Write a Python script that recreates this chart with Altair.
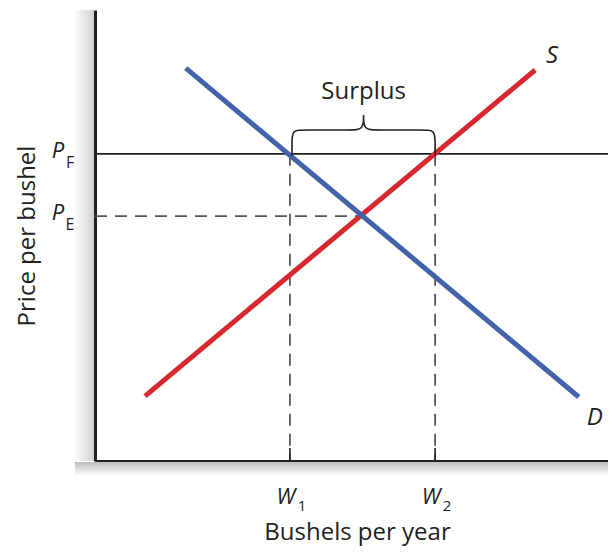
import altair as alt
import pandas as pd

# ---- values (abstract units, 0..10 on each axis) ----
W_VALUES = [3.80, 6.63]          # W1, W2 (quantities at the support price)
W_SUBS = ["1", "2"]
P_VALUES = [6.81, 5.43]          # P_F (floor), P_E (equilibrium)
P_SUBS = ["F", "E"]
Q_E = 5.19                        # equilibrium quantity
SUPPLY_Q = [0.975, 8.58]
SUPPLY_P = [1.44, 8.67]
DEMAND_Q = [1.77, 9.43]
DEMAND_P = [8.71, 1.42]
X_DOMAIN = [0, 10]
Y_DOMAIN = [0, 10]
BRACE_BAR = 7.34                  # height of brace bar
BRACE_TIP = 7.67                  # height of brace tip
SURPLUS_LABEL_Y = 8.03

FONT = "Open Sans"
INK = "#231f20"
BLUE = "#4262aa"
RED = "#d7282f"

xs = alt.Scale(domain=X_DOMAIN, nice=False, zero=False)
ys = alt.Scale(domain=Y_DOMAIN, nice=False, zero=False)
x_axis = alt.Axis(title="Bushels per year", ticks=False, labels=False, grid=False,
                  domainColor=INK, domainWidth=3, titleFont=FONT, titleFontSize=24,
                  titleFontWeight="normal", titleColor=INK, titlePadding=59, titleX=262)
y_axis = alt.Axis(title="Price per bushel", ticks=False, labels=False, grid=False,
                  domainColor=INK, domainWidth=3, titleFont=FONT, titleFontSize=24,
                  titleFontWeight="normal", titleColor=INK, titlePadding=56)


def X(f):
    return alt.X(f"{f}:Q", scale=xs, axis=x_axis)


def Y(f):
    return alt.Y(f"{f}:Q", scale=ys, axis=y_axis)


one = pd.DataFrame({"k": [0]})

# soft shadows next to the axes (decoration)
left_shadow = alt.Chart(one).mark_rect(
    color=alt.LinearGradient(gradient="linear", x1=0, x2=1, y1=0, y2=0,
                             stops=[alt.GradientStop(color="#ffffff", offset=0),
                                    alt.GradientStop(color="#d2d2d2", offset=1)])
).encode(x=alt.value(-22), x2=alt.value(-1), y=alt.value(0), y2=alt.value(451))
bottom_shadow = alt.Chart(one).mark_rect(
    color=alt.LinearGradient(gradient="linear", x1=0, x2=0, y1=0, y2=1,
                             stops=[alt.GradientStop(color="#bdbdbd", offset=0),
                                    alt.GradientStop(color="#ffffff", offset=1)])
).encode(x=alt.value(-20), x2=alt.value(513), y=alt.value(452), y2=alt.value(466))

# supply & demand
curves = pd.DataFrame({
    "q": SUPPLY_Q + DEMAND_Q,
    "p": SUPPLY_P + DEMAND_P,
    "curve": ["S", "S", "D", "D"],
    "i": [0, 1, 0, 1],
})
supply = alt.Chart(curves[curves.curve == "S"]).mark_line(
    color=RED, strokeWidth=5, strokeCap="butt").encode(x=X("q"), y=Y("p"), order="i:Q")
demand = alt.Chart(curves[curves.curve == "D"]).mark_line(
    color=BLUE, strokeWidth=5, strokeCap="butt").encode(x=X("q"), y=Y("p"), order="i:Q")

# price floor line
pf_df = pd.DataFrame({"x0": [X_DOMAIN[0]], "x1": [X_DOMAIN[1]], "p": [P_VALUES[0]]})
pf_line = alt.Chart(pf_df).mark_rule(color=INK, strokeWidth=1.6).encode(
    x=X("x0"), x2="x1:Q", y=Y("p"))

# dashed equilibrium price line
pe_df = pd.DataFrame({"x0": [X_DOMAIN[0]], "x1": [Q_E], "p": [P_VALUES[1]]})
pe_line = alt.Chart(pe_df).mark_rule(color="#555555", strokeWidth=1.6, strokeDash=[12, 8]).encode(
    x=X("x0"), x2="x1:Q", y=Y("p"))

# dashed verticals at W1, W2
w_df = pd.DataFrame({"w": W_VALUES, "y0": [Y_DOMAIN[0]] * 2, "y1": [P_VALUES[0]] * 2,
                     "sub": W_SUBS, "lab": ["W", "W"]})
w_lines = alt.Chart(w_df).mark_rule(color="#444444", strokeWidth=1.6, strokeDash=[12, 8]).encode(
    x=X("w"), y=Y("y1"), y2="y0:Q")
w_ticks = alt.Chart(w_df).mark_rule(color=INK, strokeWidth=1.6).encode(
    x=X("w"), y=alt.value(438), y2=alt.value(451))
w_main = alt.Chart(w_df).mark_text(font=FONT, fontSize=22, fontStyle="italic", color=INK,
                                   align="center", baseline="alphabetic", dx=-4).encode(
    x=X("w"), y=alt.value(494), text="lab:N")
w_sub = alt.Chart(w_df).mark_text(font=FONT, fontSize=15, color=INK,
                                  align="center", baseline="alphabetic", dx=12).encode(
    x=X("w"), y=alt.value(501), text="sub:N")

# P labels on the price axis
p_df = pd.DataFrame({"p": P_VALUES, "sub": P_SUBS, "lab": ["P", "P"]})
p_main = alt.Chart(p_df).mark_text(font=FONT, fontSize=22, fontStyle="italic", color=INK,
                                   align="center", baseline="alphabetic", dy=4).encode(
    x=alt.value(-37), y=Y("p"), text="lab:N")
p_sub = alt.Chart(p_df).mark_text(font=FONT, fontSize=16, color=INK,
                                  align="center", baseline="alphabetic", dy=14).encode(
    x=alt.value(-25), y=Y("p"), text="sub:N")

# curve labels
s_lab = alt.Chart(pd.DataFrame({"q": [SUPPLY_Q[1]], "p": [SUPPLY_P[1]], "t": ["S"]})).mark_text(
    font=FONT, fontSize=24, fontStyle="italic", color=INK, align="center",
    baseline="alphabetic", dx=17, dy=-7).encode(x=X("q"), y=Y("p"), text="t:N")
d_lab = alt.Chart(pd.DataFrame({"q": [DEMAND_Q[1]], "p": [DEMAND_P[1]], "t": ["D"]})).mark_text(
    font=FONT, fontSize=24, fontStyle="italic", color=INK, align="center",
    baseline="alphabetic", dx=16, dy=28).encode(x=X("q"), y=Y("p"), text="t:N")

# surplus brace
xl, xr = W_VALUES[0] + 0.04, W_VALUES[1]
mid = (xl + xr) / 2
yb = P_VALUES[0] - 0.04
bx = [xl, xl, xl, xl + 0.22, mid - 0.25, mid, mid, mid, mid,
      mid, mid + 0.25, xr - 0.22, xr, xr, xr]
by = [yb, BRACE_BAR - 0.3, BRACE_BAR, BRACE_BAR, BRACE_BAR, BRACE_BAR, BRACE_TIP, BRACE_TIP, BRACE_TIP,
      BRACE_BAR, BRACE_BAR, BRACE_BAR, BRACE_BAR, BRACE_BAR - 0.3, yb]
brace_df = pd.DataFrame({"x": bx, "y": by, "i": list(range(len(bx)))})
brace = alt.Chart(brace_df).mark_line(color=INK, strokeWidth=1.6, interpolate="basis").encode(
    x=X("x"), y=Y("y"), order="i:Q")
surplus = alt.Chart(pd.DataFrame({"x": [mid], "y": [SURPLUS_LABEL_Y], "t": ["Surplus"]})).mark_text(
    font=FONT, fontSize=24, color=INK, align="center", baseline="alphabetic").encode(
    x=X("x"), y=Y("y"), text="t:N")

chart = alt.layer(
    left_shadow, bottom_shadow,
    pe_line, w_lines, pf_line, supply, demand, brace, surplus, s_lab, d_lab,
    w_ticks, w_main, w_sub, p_main, p_sub,
).properties(
    width=513, height=451,
    autosize=alt.AutoSizeParams(type="none"),
    padding={"left": 87, "top": 2, "right": 0, "bottom": 85},
    background="white",
).configure_view(stroke=None)

chart.save("out.html", embed_options={"renderer": "svg", "actions": False})
